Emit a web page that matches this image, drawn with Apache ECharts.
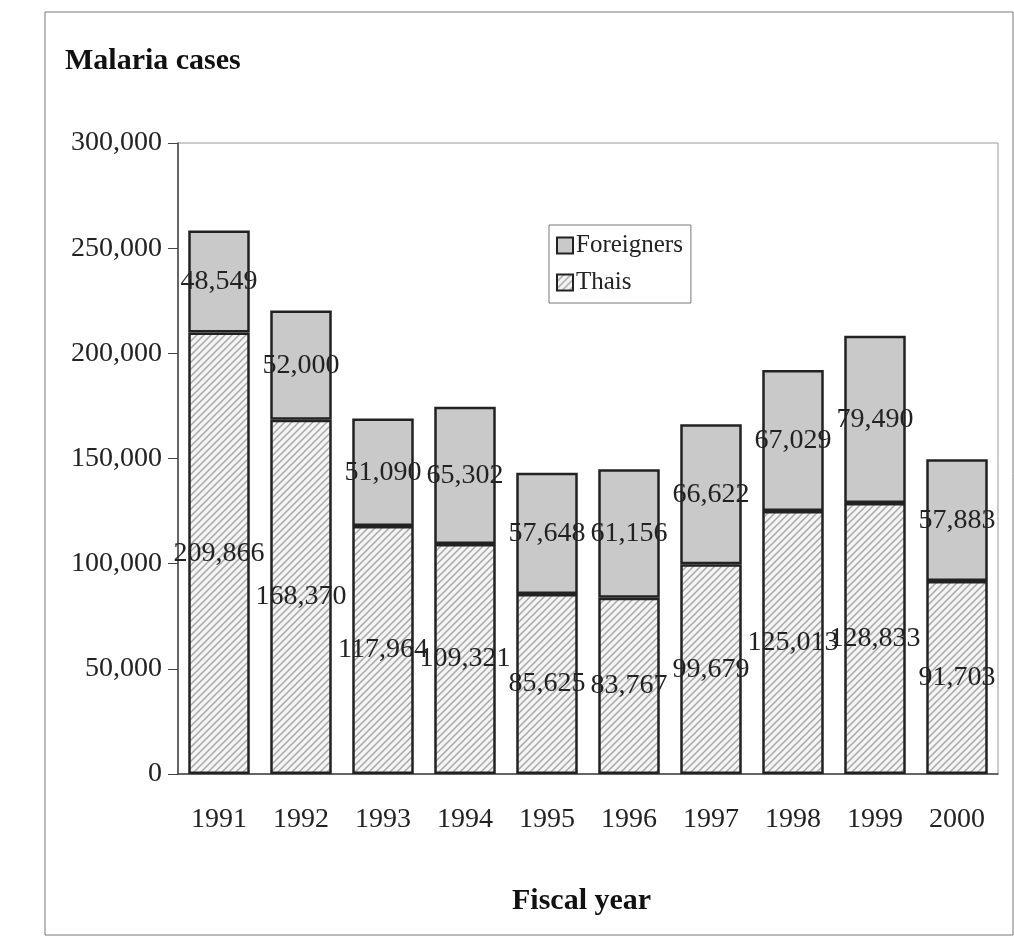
<!DOCTYPE html>
<html>
<head>
<meta charset="utf-8">
<script src="https://cdn.jsdelivr.net/npm/echarts@6/dist/echarts.min.js"></script>
<style>
  html, body { margin: 0; padding: 0; background: #fff; }
  #main { width: 1014px; height: 937px; }
</style>
</head>
<body>
<div id="main"></div>
<script>
const years = ["1991", "1992", "1993", "1994", "1995", "1996", "1997", "1998", "1999", "2000"];
const thais = [209866, 168370, 117964, 109321, 85625, 83767, 99679, 125013, 128833, 91703];
const foreigners = [48549, 52000, 51090, 65302, 57648, 61156, 66622, 67029, 79490, 57883];

const FONT = "Liberation Serif";

// diagonal hatch for the Thais bars
function hatch() {
  const c = document.createElement("canvas");
  c.width = 7;
  c.height = 7;
  const ctx = c.getContext("2d");
  ctx.fillStyle = "#f4f4f4";
  ctx.fillRect(0, 0, 7, 7);
  ctx.strokeStyle = "#a8a8a8";
  ctx.lineWidth = 1.5;
  ctx.beginPath();
  ctx.moveTo(-1, 8); ctx.lineTo(8, -1);
  ctx.moveTo(-5, 5); ctx.lineTo(5, -5);
  ctx.moveTo(2, 12); ctx.lineTo(12, 2);
  ctx.stroke();
  return c;
}

const fmt = v => v.toLocaleString("en-US");

const chart = echarts.init(document.getElementById("main"));
const labelStyle = {
  show: true,
  position: "inside",
  color: "#222",
  fontFamily: FONT,
  fontSize: 28,
  formatter: p => fmt(p.value),
};

chart.setOption({
  animation: false,
  textStyle: { fontFamily: FONT },
  graphic: [
    {
      type: "rect",
      shape: { x: 45, y: 12, width: 968, height: 923 },
      style: { fill: "none", stroke: "#777", lineWidth: 1 },
      silent: true,
    },
    {
      type: "text",
      left: 65,
      top: 46,
      style: { text: "Malaria cases", font: "bold 30px " + FONT, fill: "#111" },
    },
    {
      type: "text",
      left: 512,
      top: 886,
      style: { text: "Fiscal year", font: "bold 30px " + FONT, fill: "#111" },
    },
  ],
  grid: {
    left: 178,
    top: 143,
    width: 820,
    height: 631,
    show: true,
    borderColor: "#999",
    borderWidth: 1,
  },
  legend: {
    orient: "vertical",
    left: 549,
    top: 225,
    padding: [8, 8, 8, 7],
    itemGap: 12,
    itemWidth: 16,
    itemHeight: 16,
    icon: "rect",
    borderColor: "#777",
    borderWidth: 1,
    data: ["Foreigners", "Thais"],
    textStyle: { fontFamily: FONT, fontSize: 25, color: "#222", padding: [0, 0, 0, -2] },
  },
  xAxis: {
    type: "category",
    data: years,
    axisLine: { lineStyle: { color: "#444", width: 1.5 } },
    axisTick: { length: 9, lineStyle: { color: "#444" } },
    axisLabel: { color: "#222", fontFamily: FONT, fontSize: 28, margin: 32 },
  },
  yAxis: {
    type: "value",
    min: 0,
    max: 300000,
    interval: 50000,
    splitLine: { show: false },
    axisLine: { show: true, lineStyle: { color: "#444", width: 1.5 } },
    axisTick: { show: true, length: 10, lineStyle: { color: "#444" } },
    axisLabel: { color: "#222", fontFamily: FONT, fontSize: 28, margin: 16, formatter: v => fmt(v) },
  },
  series: [
    {
      name: "Thais",
      type: "bar",
      stack: "total",
      data: thais,
      barWidth: "75%",
      itemStyle: {
        color: { image: hatch(), repeat: "repeat" },
        borderColor: "#222",
        borderWidth: 2.5,
      },
      label: labelStyle,
    },
    {
      name: "Foreigners",
      type: "bar",
      stack: "total",
      data: foreigners,
      barWidth: "75%",
      itemStyle: {
        color: "#c9c9c9",
        borderColor: "#222",
        borderWidth: 2.5,
      },
      label: labelStyle,
    },
  ],
});
</script>
</body>
</html>
